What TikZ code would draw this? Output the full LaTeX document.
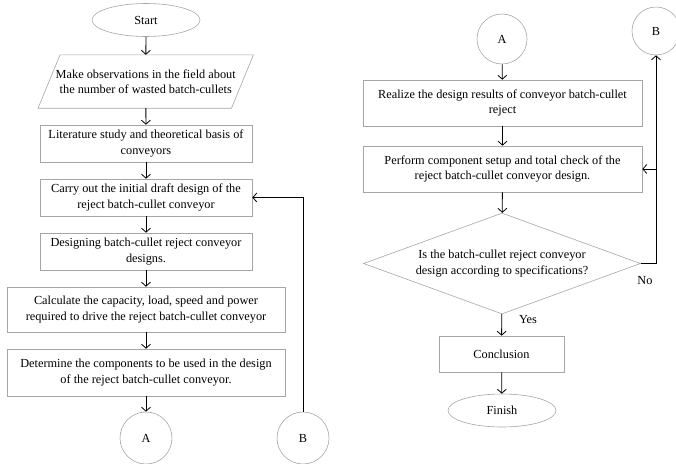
\documentclass[tikz,border=0pt]{standalone}
\usepackage{fontspec}
\setmainfont{Liberation Serif}
\usepackage{tikz}
\usetikzlibrary{arrows.meta,shapes.geometric}
\tikzset{
    every node/.style={align=center,font=\fontsize{12.3pt}{15.5pt}\selectfont,inner sep=0pt,},
    process/.style={draw=gray!70,rectangle,line width=0.6pt,},
    terminal/.style={draw=gray!70,ellipse,line width=0.6pt,minimum width=108pt,minimum height=33pt,},
    connector/.style={draw=gray!70,circle,line width=0.6pt,minimum size=52pt,},
    flow/.style={-{Straight Barb[length=4pt,width=9pt]},line width=0.8pt,},
}

\begin{document}
\begin{tikzpicture}[x=1pt,y=-1pt]
                \useasboundingbox (0,0) rectangle (676,463);

                \node[terminal] (start) at (146, 20) {Start};
                \node[minimum width=193pt,minimum height=53pt] (observe) at (145.75, 81.5) {Make observations in the field about\\the number of wasted batch-cullets};
                \draw[draw=gray!70,line width=0.6pt] ([xshift=11pt]observe.north west) -- ([xshift=11pt]observe.north east)
                      -- ([xshift=-11pt]observe.south east) -- ([xshift=-11pt]observe.south west) -- cycle;
                \node[process,minimum width=212pt,minimum height=37pt] (literature) at (146, 143.5) {Literature study and theoretical basis of\\conveyors};
                \node[process,minimum width=212pt,minimum height=37pt] (draft) at (146, 197.5) {Carry out the initial draft design of the\\reject batch-cullet conveyor};
                \node[process,minimum width=212pt,minimum height=37pt] (designing) at (146, 251.5) {Designing batch-cullet reject conveyor\\designs.};
                \node[process,minimum width=278pt,minimum height=45pt] (calculate) at (146, 309.5) {Calculate the capacity, load, speed and power\\required to drive the reject batch-cullet conveyor};
                \node[process,minimum width=278pt,minimum height=47pt] (components) at (146, 372.5) {Determine the components to be used in the design\\of the reject batch-cullet conveyor.};
                \node[connector] (connA) at (146, 438) {A};
                \node[connector] (connB) at (303, 438) {B};

                \node[connector,minimum size=50pt] (connA2) at (502, 39) {A};
                \node[connector,minimum size=48pt] (connB2) at (656, 31) {B};
                \node[process,minimum width=279pt,minimum height=46pt] (realize) at (502.5, 103) {Realize the design results of conveyor batch-cullet\\reject};
                \node[process,minimum width=279pt,minimum height=46pt] (setup) at (502.5, 169) {Perform component setup and total check of the\\reject batch-cullet conveyor design.};
                \node[draw=gray!70,diamond,aspect=2.74,line width=0.6pt,minimum width=277pt,minimum height=101pt] (check) at (502, 263.5) {Is the batch-cullet reject conveyor\\design according to specifications?};
                \node[process,minimum width=125pt,minimum height=36pt] (conclusion) at (501.5, 354) {Conclusion};
                \node[terminal] (finish) at (502, 410.5) {Finish};

                \node (yes) at (528, 320) {Yes};
                \node (no) at (645, 281) {No};

                \draw[flow] (start) to (observe);
                \draw[flow] (observe) to (literature);
                \draw[flow] (literature) to (draft);
                \draw[flow] (draft) to (designing);
                \draw[flow] (designing) to (calculate);
                \draw[flow] (calculate) to (components);
                \draw[flow] (components) to (connA);
                \draw[flow] (connB.north) |- (draft.east);

                \draw[flow] (connA2) to (realize);
                \draw[flow] (realize) to (setup);
                \draw[flow] (setup) to (check);
                \draw[flow] (check) to (conclusion);
                \draw[flow] (conclusion) to (finish);
                \draw[flow] (check.east) -| (connB2.south);
                \draw[flow] (connB2.south |- setup.east) to (setup.east);
            \end{tikzpicture}
\end{document}
